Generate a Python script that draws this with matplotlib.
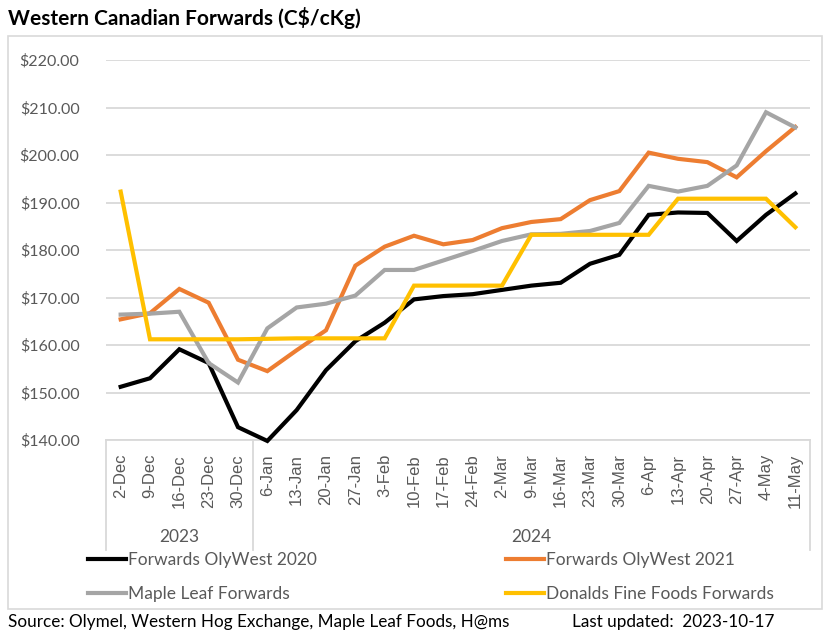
import matplotlib.pyplot as plt
import matplotlib.transforms as mtransforms
from matplotlib.patches import Rectangle

# Week labels and year groups
weeks = ["2-Dec", "9-Dec", "16-Dec", "23-Dec", "30-Dec", "6-Jan", "13-Jan", "20-Jan",
         "27-Jan", "3-Feb", "10-Feb", "17-Feb", "24-Feb", "2-Mar", "9-Mar", "16-Mar",
         "23-Mar", "30-Mar", "6-Apr", "13-Apr", "20-Apr", "27-Apr", "4-May", "11-May"]
years = ["2023", "2024"]
year_counts = [5, 19]

# Series values (C$/cKg)
olywest_2020 = [151.2, 153.0, 159.1, 156.2, 142.7, 139.8, 146.3, 154.7, 160.8, 164.7,
                169.6, 170.3, 170.7, 171.6, 172.5, 173.1, 177.1, 179.0, 187.4, 187.9,
                187.8, 181.9, 187.4, 191.9]
olywest_2021 = [165.4, 166.7, 171.8, 168.9, 156.9, 154.5, 158.9, 163.1, 176.7, 180.7,
                183.0, 181.2, 182.1, 184.6, 185.9, 186.5, 190.5, 192.4, 200.5, 199.2,
                198.5, 195.3, 200.8, 205.9]
maple_leaf = [166.4, 166.6, 167.0, 156.2, 152.1, 163.5, 167.9, 168.7, 170.4, 175.8,
              175.8, 177.8, 179.8, 181.9, 183.3, 183.4, 184.0, 185.7, 193.5, 192.3,
              193.5, 197.8, 209.0, 205.8]
donalds = [192.3, 161.2, 161.2, 161.2, 161.2, 161.3, 161.4, 161.4, 161.4, 161.4,
           172.5, 172.5, 172.5, 172.5, 183.2, 183.2, 183.2, 183.2, 183.2, 190.8,
           190.8, 190.8, 190.8, 184.8]

series = [
    ("Forwards OlyWest 2020", olywest_2020, "#000000"),
    ("Forwards OlyWest 2021", olywest_2021, "#ED7D31"),
    ("Maple Leaf Forwards", maple_leaf, "#A5A5A5"),
    ("Donalds Fine Foods Forwards", donalds, "#FFC000"),
]

font = ["Lato", "DejaVu Sans"]
grey_text = "#595959"

fig = plt.figure(figsize=(8.26, 6.39), dpi=100)
ax = fig.add_axes([106 / 826, 1 - 440 / 639, 704 / 826, 380 / 639])

# Outer chart border
fig.patches.append(Rectangle((8 / 826, 1 - 609 / 639), 814 / 826, 573 / 639,
                             transform=fig.transFigure, fill=False,
                             edgecolor="#D9D9D9", lw=1.2))

x = list(range(len(weeks)))
lines = []
for name, vals, col in series:
    ln, = ax.plot(x, vals, color=col, lw=3, label=name, solid_joinstyle="miter",
                  clip_on=False, zorder=3)
    lines.append(ln)

ax.set_xlim(-0.5, len(weeks) - 0.5)
ax.set_ylim(140, 220)
ax.set_yticks(range(140, 221, 10))
ax.set_yticklabels([f"${v:.2f}" for v in range(140, 221, 10)], family=font,
                   fontsize=11.5, color=grey_text)
ax.set_xticks(x)
ax.set_xticklabels(weeks, rotation=90, family=["Liberation Sans"], fontsize=12,
                   color=grey_text)
ax.tick_params(axis="y", length=0, pad=19)
ax.tick_params(axis="x", length=0, pad=10)
ax.grid(axis="y", color="#D9D9D9", lw=1.3)
ax.set_axisbelow(True)
for s in ["top", "right", "left"]:
    ax.spines[s].set_visible(False)
ax.spines["bottom"].set_color("#D9D9D9")
ax.spines["bottom"].set_linewidth(1.3)

# Year grouping under the week labels
trans = mtransforms.blended_transform_factory(ax.transData, ax.transAxes)
start = 0
bounds = [-0.5]
for yr, n in zip(years, year_counts):
    ax.text(start + (n - 1) / 2, -0.256, yr, transform=trans, ha="center", va="center",
            family=font, fontsize=12.5, color=grey_text)
    start += n
    bounds.append(start - 0.5)
for b in bounds:
    ax.plot([b, b], [0, -0.29], transform=trans, color="#D9D9D9", lw=1.3, clip_on=False)

# Legend in two columns, filled row by row
leg = fig.legend(handles=[lines[0], lines[2], lines[1], lines[3]], ncol=2,
                 loc="upper left", bbox_to_anchor=(72 / 826, 1 - 536 / 639),
                 frameon=False, prop={"family": font, "size": 12.5},
                 labelcolor=grey_text, handlelength=2.2, handletextpad=0.12,
                 columnspacing=10.9, labelspacing=1.05)

fig.text(8 / 826, 1 - 18 / 639, "Western Canadian Forwards (C$/cKg)", family=font,
         fontsize=15, fontweight="bold", va="center", ha="left")
fig.text(8 / 826, 1 - 622 / 639, "Source: Olymel, Western Hog Exchange, Maple Leaf Foods, H@ms",
         family=font, fontsize=12.3, va="center", ha="left")
fig.text(572 / 826, 1 - 622 / 639, "Last updated:  2023-10-17", family=font,
         fontsize=12.3, va="center", ha="left")

plt.savefig("out.png", dpi=100)
